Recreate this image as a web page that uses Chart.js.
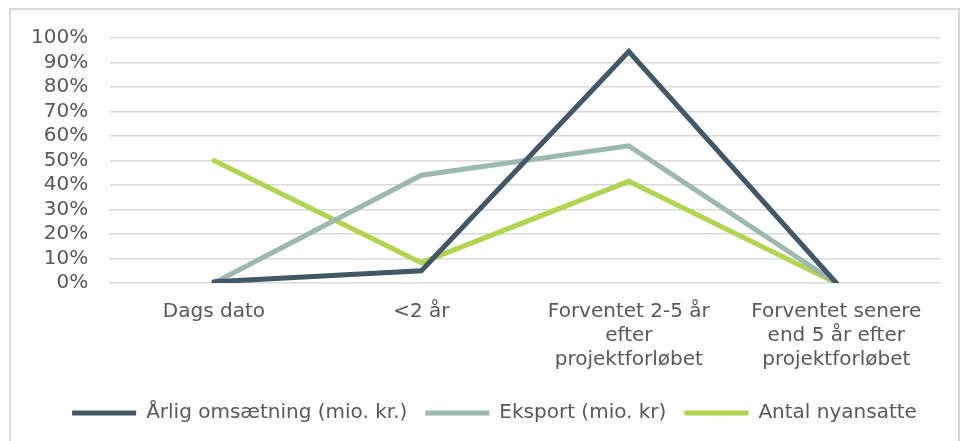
<!DOCTYPE html>
<html>
<head>
<meta charset="utf-8">
<script src="https://cdn.jsdelivr.net/npm/chart.js@4/dist/chart.umd.min.js"></script>
<style>
	html, body { margin: 0; padding: 0; background: #fff; overflow: hidden; }
	#frame { position: absolute; left: 9px; top: 8px; width: 947px; height: 445px; border: 2px solid #D9D9D9; }
	#wrap { position: absolute; left: 0; top: 0; width: 969px; height: 441px; }
</style>
</head>
<body>
<div id="frame"></div>
<div id="wrap"><canvas id="lineChart"></canvas></div>
<script>
const categories = [
	'Dags dato',
	'<2 år',
	['Forventet 2-5 år', 'efter', 'projektforløbet'],
	['Forventet senere', 'end 5 år efter', 'projektforløbet']
];
const omsaetning = [0.005, 0.05, 0.945, 0];
const eksport = [0, 0.44, 0.56, 0];
const nyansatte = [0.50, 0.083, 0.415, 0];
const yTicks = [0, 0.1, 0.2, 0.3, 0.4, 0.5, 0.6, 0.7, 0.8, 0.9, 1];

Chart.defaults.font.family = '"DejaVu Sans", Verdana, sans-serif';
Chart.defaults.font.size = 20;
Chart.defaults.color = '#595959';

function line(label, data, color) {
	return {
		label: label,
		data: data,
		borderColor: color,
		backgroundColor: color,
		borderWidth: 5,
		borderCapStyle: 'round',
		borderJoinStyle: 'miter',
		pointRadius: 0,
		pointHoverRadius: 0,
		tension: 0,
		fill: false,
	};
}

// nudge the legend a bit (right and up), like the original
const shiftLegend = {
	id: 'shiftLegend',
	afterLayout(chart) {
		chart.legend.left += 20;
		chart.legend.right += 20;
		chart.legend.top -= 4;
		chart.legend.bottom -= 4;
	}
};

const ctx = document.getElementById('lineChart');
new Chart(ctx, {
	type: 'line',
	data: {
		labels: categories,
		datasets: [
			line('Årlig omsætning (mio. kr.)', omsaetning, '#435867'),
			line('Eksport (mio. kr)', eksport, '#9DB9AE'),
			line('Antal nyansatte', nyansatte, '#B3D450'),
		],
	},
	plugins: [shiftLegend],
	options: {
		responsive: true,
		maintainAspectRatio: false,
		animation: false,
		layout: {
			padding: { left: 9, right: 29, top: 38, bottom: 4 },
		},
		plugins: {
			tooltip: { enabled: false },
			legend: {
				position: 'bottom',
				labels: {
					usePointStyle: true,
					pointStyle: 'line',
					pointStyleWidth: 64,
					padding: 18,
					color: '#595959',
					font: { size: 20 },
				},
			},
		},
		scales: {
			x: {
				offset: true,
				grid: { display: false, drawTicks: false },
				border: { display: false },
				ticks: {
					padding: 17,
					maxRotation: 0,
					autoSkip: false,
				},
			},
			y: {
				min: 0,
				max: 1,
				afterBuildTicks: (axis) => {
					axis.ticks = yTicks.map(v => ({ value: v }));
				},
				grid: { color: '#D9D9D9', lineWidth: 1.5, drawTicks: false },
				border: { display: false },
				ticks: {
					padding: 22,
					autoSkip: false,
					callback: (v) => Math.round(v * 100) + '%',
				},
			},
		},
	},
});
</script>
</body>
</html>
